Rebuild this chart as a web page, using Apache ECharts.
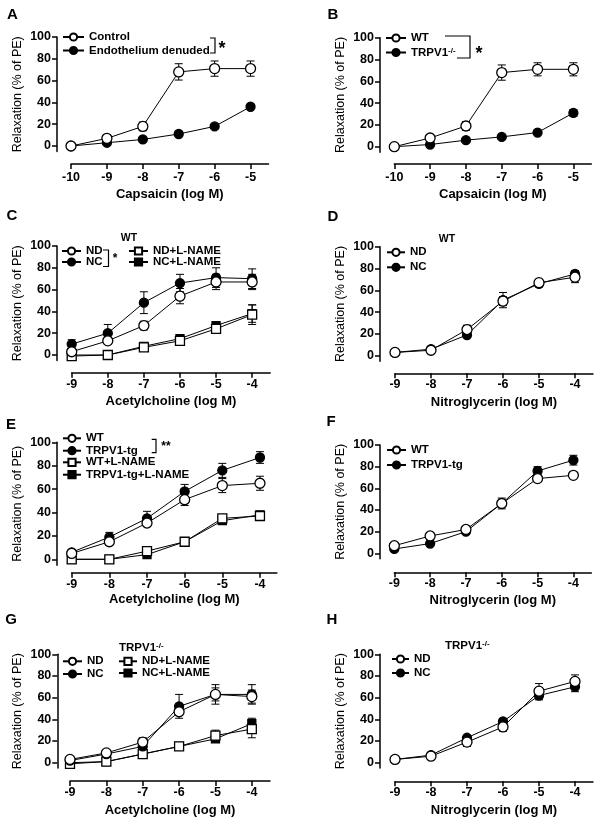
<!DOCTYPE html>
<html><head><meta charset="utf-8">
<script src="https://cdn.jsdelivr.net/npm/echarts@6/dist/echarts.min.js"></script>
<style>html,body{margin:0;padding:0;background:#fff}#c{width:601px;height:824px}</style>
</head><body><div id="c"></div>
<script>
// ---------- data ----------
const xCapsaicin = [-10, -9, -8, -7, -6, -5];
const xDose = [-9, -8, -7, -6, -5, -4];
const yTickValues = [0, 20, 40, 60, 80, 100];

// A: capsaicin, control vs endothelium denuded
const A_control = [0, 7, 18, 68, 71, 71];
const A_control_sem = [0, 2, 4, 7.5, 7, 7];
const A_denuded = [0, 3, 6, 11, 18, 36];
const A_denuded_sem = [0, 1, 1, 1, 1, 1];

// B: capsaicin, WT vs TRPV1-/-
const B_wt = [0, 8, 19, 68, 71, 71];
const B_wt_sem = [0, 2, 4, 7, 6, 6];
const B_ko = [0, 2, 6, 9, 13, 31];
const B_ko_sem = [0, 1, 1, 1, 1, 3];

// C: acetylcholine, WT
const C_nd = [3, 13, 27, 54, 67, 67];
const C_nd_sem = [2, 2, 4, 7, 7, 7];
const C_nc = [10, 20, 48, 66, 71, 70];
const C_nc_sem = [4, 8, 10, 8, 9, 9];
const C_ndL = [-1, 0, 7, 13, 24, 37];
const C_ndL_sem = [0, 0, 1, 1, 4, 9];
const C_ncL = [0, 0, 8, 15, 27, 38];
const C_ncL_sem = [0, 0, 1, 1, 3, 8];

// D: nitroglycerin, WT
const D_nd = [3, 5, 24, 50, 67, 72];
const D_nd_sem = [1, 1, 4, 4, 3, 5];
const D_nc = [3, 6, 19, 51, 66, 75];
const D_nc_sem = [1, 1, 2, 7, 3, 3];

// E: acetylcholine, WT vs TRPV1-tg
const E_wt = [5, 15, 31, 51, 63, 65];
const E_wt_sem = [1, 2, 2, 5, 6, 6];
const E_tg = [6, 19, 35, 58, 76, 87];
const E_tg_sem = [1, 4, 6, 6, 6, 5];
const E_wtL = [0, 0, 7, 15, 35, 37];
const E_wtL_sem = [0, 0, 1, 1, 1, 1];
const E_tgL = [0, 0, 4, 15, 33, 38];
const E_tgL_sem = [0, 0, 1, 1, 1, 1];

// F: nitroglycerin, WT vs TRPV1-tg
const F_wt = [7, 16, 22, 46, 69, 72];
const F_wt_sem = [1, 1, 1, 5, 2, 2];
const F_tg = [4, 9, 20, 46, 76, 86];
const F_tg_sem = [1, 1, 1, 3, 4, 4.5];

// G: acetylcholine, TRPV1-/-
const G_nd = [3, 9, 19, 47, 63, 61];
const G_nd_sem = [1, 2, 4, 3, 6, 6];
const G_nc = [2, 8, 15, 52, 63, 63];
const G_nc_sem = [1, 1, 3, 11, 9, 9];
const G_ndL = [-1, 1, 8, 15, 25, 31];
const G_ndL_sem = [0, 0, 1, 1, 5, 8];
const G_ncL = [0, 1, 8, 15, 22, 36];
const G_ncL_sem = [0, 0, 1, 1, 1, 5];

// H: nitroglycerin, TRPV1-/-
const H_nd = [3, 6, 19, 33, 66, 75];
const H_nd_sem = [1, 1, 4, 4, 7, 6];
const H_nc = [3, 7, 23, 38, 62, 70];
const H_nc_sem = [1, 1, 1, 2, 4, 4.5];

// ---------- layout / style ----------
const FF = '"Liberation Sans", Arial, Helvetica, sans-serif';
const KINDS = {
  oc: { symbol: 'circle', size: 10, fill: '#fff' },
  fc: { symbol: 'circle', size: 9, fill: '#000' },
  os: { symbol: 'rect', size: 9, fill: '#fff' },
  fs: { symbol: 'rect', size: 8, fill: '#000' }
};

const panels = [
  { key: 'A', left: 71, top: 37, width: 197.5, unit: 1.09, xMin: -10, xMax: -4.5, xTicks: xCapsaicin, xOff: 12.5, yOff: 14, lm: 7, ng: 24, xName: 'Capsaicin (log M)',
    series: [['Endothelium denuded', xCapsaicin, A_denuded, A_denuded_sem, 'fc'], ['Control', xCapsaicin, A_control, A_control_sem, 'oc']],
    legends: [{ left: 62, w: 21, items: [['Control', 38], ['Endothelium denuded', 51.5]] }] },
  { key: 'B', left: 394.3, top: 37.7, width: 197, unit: 1.09, xMin: -10, xMax: -4.5, xTicks: xCapsaicin, xOff: 11.9, yOff: 14.3, lm: 7, ng: 24, xName: 'Capsaicin (log M)',
    series: [['TRPV1-/-', xCapsaicin, B_ko, B_ko_sem, 'fc'], ['WT', xCapsaicin, B_wt, B_wt_sem, 'oc']],
    legends: [{ left: 385, w: 20, items: [['WT', 39], ['TRPV1-/-', 53.5]] }] },
  { key: 'C', left: 71.7, top: 246, width: 198.5, unit: 1.09, xMin: -9, xMax: -3.5, xTicks: xDose, xOff: 12.2, yOff: 14.7, lm: 5, ng: 22, xName: 'Acetylcholine (log M)',
    series: [['NC+L-NAME', xDose, C_ncL, C_ncL_sem, 'fs'], ['ND+L-NAME', xDose, C_ndL, C_ndL_sem, 'os'], ['NC', xDose, C_nc, C_nc_sem, 'fc'], ['ND', xDose, C_nd, C_nd_sem, 'oc']],
    legends: [{ left: 61, w: 19, items: [['ND', 252], ['NC', 263]] }, { left: 128, w: 19, items: [['ND+L-NAME', 252], ['NC+L-NAME', 263]] }] },
  { key: 'D', left: 395, top: 246.7, width: 198, unit: 1.09, xMin: -9, xMax: -3.5, xTicks: xDose, xOff: 12.2, yOff: 15, lm: 5, ng: 23, xName: 'Nitroglycerin (log M)',
    series: [['NC', xDose, D_nc, D_nc_sem, 'fc'], ['ND', xDose, D_nd, D_nd_sem, 'oc']],
    legends: [{ left: 386, w: 18, items: [['ND', 253.3], ['NC', 268.3]] }] },
  { key: 'E', left: 71.7, top: 442.3, width: 205.2, unit: 1.17, xMin: -9, xMax: -3.55, xTicks: xDose, xOff: 7.5, yOff: 14.7, lm: 5, ng: 20, xName: 'Acetylcholine (log M)',
    series: [['TRPV1-tg+L-NAME', xDose, E_tgL, E_tgL_sem, 'fs'], ['WT+L-NAME', xDose, E_wtL, E_wtL_sem, 'os'], ['TRPV1-tg', xDose, E_tg, E_tg_sem, 'fc'], ['WT', xDose, E_wt, E_wt_sem, 'oc']],
    legends: [{ left: 62, w: 18, items: [['WT', 439.3], ['TRPV1-tg', 451.7], ['WT+L-NAME', 463.3], ['TRPV1-tg+L-NAME', 475.7]] }] },
  { key: 'F', left: 394.3, top: 445, width: 197, unit: 1.083, xMin: -9, xMax: -3.5, xTicks: xDose, xOff: 13.6, yOff: 14.3, lm: 5, ng: 22, xName: 'Nitroglycerin (log M)',
    series: [['TRPV1-tg', xDose, F_tg, F_tg_sem, 'fc'], ['WT', xDose, F_wt, F_wt_sem, 'oc']],
    legends: [{ left: 386, w: 19, items: [['WT', 451], ['TRPV1-tg', 466]] }] },
  { key: 'G', left: 70, top: 654.3, width: 200, unit: 1.084, xMin: -9, xMax: -3.5, xTicks: xDose, xOff: 12.9, yOff: 12.7, lm: 5, ng: 23, xName: 'Acetylcholine (log M)',
    series: [['NC+L-NAME', xDose, G_ncL, G_ncL_sem, 'fs'], ['ND+L-NAME', xDose, G_ndL, G_ndL_sem, 'os'], ['NC', xDose, G_nc, G_nc_sem, 'fc'], ['ND', xDose, G_nd, G_nd_sem, 'oc']],
    legends: [{ left: 62, w: 19, items: [['ND', 662.3], ['NC', 675]] }, { left: 118, w: 18, items: [['ND+L-NAME', 662.3], ['NC+L-NAME', 674]] }] },
  { key: 'H', left: 395, top: 654.3, width: 198, unit: 1.084, xMin: -9, xMax: -3.5, xTicks: xDose, xOff: 13.2, yOff: 15, lm: 5, ng: 23, xName: 'Nitroglycerin (log M)',
    series: [['NC', xDose, H_nc, H_nc_sem, 'fc'], ['ND', xDose, H_nd, H_nd_sem, 'oc']],
    legends: [{ left: 391, w: 17, items: [['ND', 660], ['NC', 674]] }] }
];

function renderErr(params, api) {
  const x = api.value(0), y = api.value(1), e = api.value(2);
  if (!e) return null;
  const t = api.coord([x, y + e]);
  const b = api.coord([x, y - e]);
  const c = 4, st = { stroke: '#000', lineWidth: 1 };
  return { type: 'group', children: [
    { type: 'line', shape: { x1: t[0], y1: t[1], x2: b[0], y2: b[1] }, style: st },
    { type: 'line', shape: { x1: t[0] - c, y1: t[1], x2: t[0] + c, y2: t[1] }, style: st },
    { type: 'line', shape: { x1: b[0] - c, y1: b[1], x2: b[0] + c, y2: b[1] }, style: st }
  ] };
}

const richSup = {
  sup: { fontSize: 8, fontWeight: 'bold', fontFamily: FF, color: '#000', verticalAlign: 'top' }
};
function fmtName(n) {
  const t = n.split('@')[0];
  return t.indexOf('-/-') >= 0 ? t.replace('-/-', '{sup|-/-}') : t;
}

const grid = [], xAxis = [], yAxis = [], series = [], legend = [];
panels.forEach((p, gi) => {
  grid.push({ left: p.left, top: p.top, width: p.width, height: 105 * p.unit, containLabel: false, outerBoundsMode: 'none' });
  xAxis.push({
    type: 'value', gridIndex: gi, min: p.xMin, max: p.xMax, offset: p.xOff,
    name: p.xName, nameLocation: 'middle', nameGap: p.ng,
    nameTextStyle: { fontFamily: FF, fontWeight: 'bold', fontSize: 13, color: '#000' },
    axisLine: { show: true, onZero: false, lineStyle: { color: '#000', width: 1.5 } },
    axisTick: { show: true, length: 5, lineStyle: { color: '#000', width: 1.5 }, customValues: p.xTicks },
    axisLabel: { show: true, margin: p.lm, fontFamily: FF, fontWeight: 'bold', fontSize: 12.5, color: '#000', customValues: p.xTicks },
    splitLine: { show: false }
  });
  yAxis.push({
    type: 'value', gridIndex: gi, min: -5, max: 100, offset: p.yOff,
    name: 'Relaxation (% of PE)', nameLocation: 'middle', nameGap: 33,
    nameTextStyle: { fontFamily: FF, fontSize: 12.5, color: '#000' },
    axisLine: { show: true, onZero: false, lineStyle: { color: '#000', width: 1.5 } },
    axisTick: { show: true, length: 5, lineStyle: { color: '#000', width: 1.5 }, customValues: yTickValues },
    axisLabel: { show: true, margin: 6, fontFamily: FF, fontWeight: 'bold', fontSize: 12.5, color: '#000', customValues: yTickValues },
    splitLine: { show: false }
  });
  p.series.forEach((s, si) => {
    const [label, xs, ys, es, kind] = s;
    const k = KINDS[kind];
    series.push({
      type: 'custom', xAxisIndex: gi, yAxisIndex: gi, name: 'err-' + p.key + si, z: 1,
      renderItem: renderErr, silent: true, clip: false,
      encode: { x: 0, y: 1 },
      data: xs.map((v, i) => [v, ys[i], es[i]])
    });
    series.push({
      type: 'line', xAxisIndex: gi, yAxisIndex: gi, name: label + '@' + p.key, z: 3 + si,
      symbol: k.symbol, symbolSize: k.size, showSymbol: true,
      lineStyle: { color: '#000', width: 1 },
      itemStyle: { color: k.fill, borderColor: '#000', borderWidth: 1.3 },
      data: xs.map((v, i) => [v, ys[i]])
    });
  });
  p.legends.forEach(lg => {
    lg.items.forEach(([label, cy]) => {
      legend.push({
        data: [label + '@' + p.key], left: lg.left, top: cy - 7, padding: 0,
        itemWidth: lg.w, itemHeight: 9, selectedMode: false,
        formatter: fmtName,
        textStyle: { fontFamily: FF, fontWeight: 'bold', fontSize: 11.5, color: '#000', rich: richSup }
      });
    });
  });
});

const txt = (x, y, text, size, align, extra) => Object.assign({
  type: 'text', x: x, y: y, silent: true,
  style: { text: text, font: 'bold ' + size + 'px ' + FF, fill: '#000', align: align || 'center', verticalAlign: 'middle',
    rich: { sup: { fontSize: 8, fontWeight: 'bold', fontFamily: FF, fill: '#000', verticalAlign: 'top' } } }
}, extra || {});
const bracket = (pts) => ({ type: 'polyline', silent: true, shape: { points: pts }, style: { stroke: '#000', lineWidth: 1.2, fill: null } });

const graphic = [
  txt(12.5, 15, 'A', 15), txt(333, 15, 'B', 15), txt(12, 216, 'C', 15), txt(333, 217, 'D', 15),
  txt(11, 425, 'E', 15), txt(331, 422, 'F', 15), txt(11, 620, 'G', 15), txt(332, 620, 'H', 15),
  txt(129, 238, 'WT', 10.5), txt(447, 239, 'WT', 10.5),
  txt(119, 648, 'TRPV1{sup|-/-}', 11.5, 'left'), txt(445, 646, 'TRPV1{sup|-/-}', 11.5, 'left'),
  bracket([[210, 38], [215, 38], [215, 53], [210, 53]]), txt(222, 49, '*', 18),
  bracket([[445, 36], [470, 36], [470, 58], [457, 58]]), txt(479, 54, '*', 18),
  bracket([[103, 250], [108.5, 250], [108.5, 266.5], [103, 266.5]]), txt(115, 259, '*', 12),
  bracket([[151.7, 439.3], [156, 439.3], [156, 452.7], [151.7, 452.7]]), txt(166, 447, '**', 12)
];

const chart = echarts.init(document.getElementById('c'), null, { renderer: 'canvas' });
chart.setOption({
  backgroundColor: '#fff', animation: false,
  grid: grid, xAxis: xAxis, yAxis: yAxis, series: series, legend: legend, graphic: graphic
});
</script></body></html>
